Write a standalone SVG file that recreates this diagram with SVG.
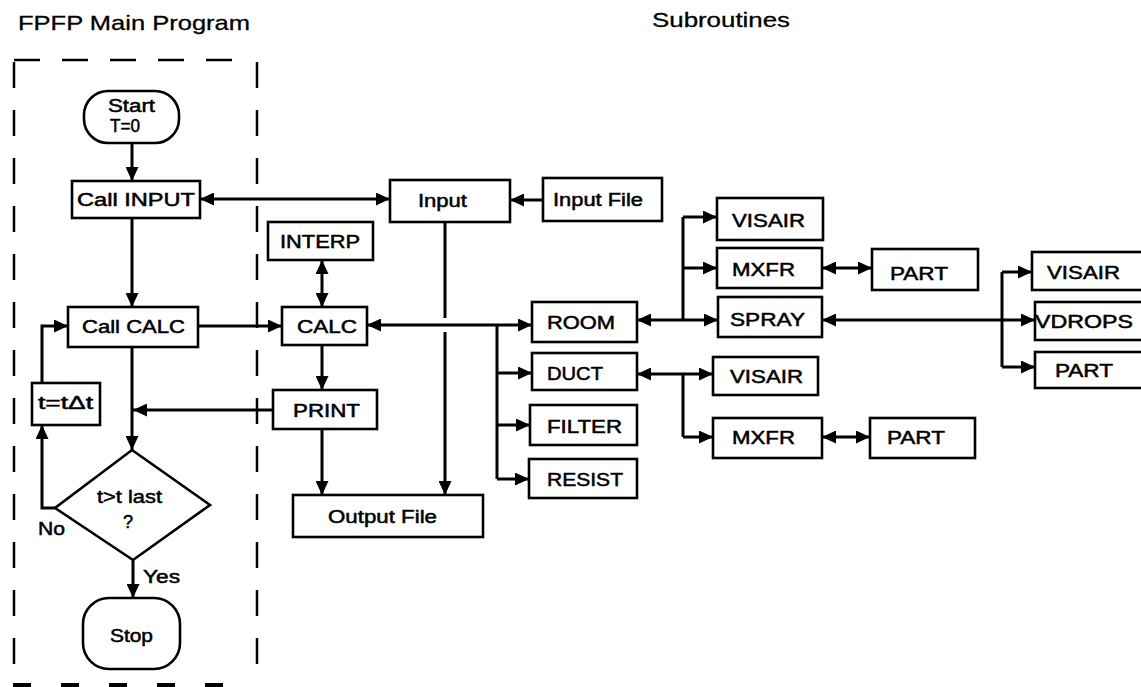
<svg xmlns="http://www.w3.org/2000/svg" width="1141" height="687" viewBox="0 0 1141 687">
<style>
  .box { fill: #fff; stroke: #000; stroke-width: 2.6; }
  .t { font-family: "Liberation Sans", Arial, sans-serif; font-size: 18px; fill: #000; stroke: #000; stroke-width: 0.5; }
  .title { font-family: "Liberation Sans", Arial, sans-serif; font-size: 21px; fill: #000; stroke: #000; stroke-width: 0.3; }
  .c { fill: none; stroke: #000; stroke-width: 3; }
  .a { fill: none; stroke: #000; stroke-width: 3; marker-end: url(#ah); }
  .aa { fill: none; stroke: #000; stroke-width: 3; marker-end: url(#ah); marker-start: url(#ah); }
  .dash { fill: none; stroke: #000; stroke-width: 2.5; stroke-dasharray: 26 22; }
</style>
<defs>
  <marker id="ah" markerUnits="userSpaceOnUse" markerWidth="15" markerHeight="13" refX="14" refY="6.5" orient="auto-start-reverse">
    <path d="M0,0 L14,6.5 L0,13 z" fill="#000"/>
  </marker>
</defs>
<rect width="1141" height="687" fill="#fff"/>

<g id="titles">
  <text class="title" x="18" y="30" textLength="232" lengthAdjust="spacingAndGlyphs">FPFP Main Program</text>
  <text class="title" x="652" y="27" textLength="138" lengthAdjust="spacingAndGlyphs">Subroutines</text>
</g>

<g id="main-frame">
  <line class="dash" x1="14" y1="60" x2="234" y2="60"/>
  <line class="dash" x1="14" y1="62" x2="14" y2="665"/>
  <line class="dash" x1="257" y1="62" x2="257" y2="665"/>
  <line x1="13" y1="685" x2="234" y2="685" stroke="#000" stroke-width="4" stroke-dasharray="18 30"/>
</g>

<g id="connectors">
  <line class="a" x1="132" y1="143" x2="132" y2="181"/>
  <line class="aa" x1="200" y1="199" x2="390" y2="199"/>
  <line class="a" x1="543" y1="200" x2="510" y2="200"/>
  <line class="c" x1="445" y1="222" x2="445" y2="318"/>
  <line class="a" x1="445" y1="332" x2="445" y2="495"/>
  <line class="a" x1="132" y1="218" x2="132" y2="307"/>
  <line class="a" x1="198" y1="326" x2="282" y2="326"/>
  <line class="aa" x1="322" y1="260" x2="322" y2="307"/>
  <line class="a" x1="322" y1="345" x2="322" y2="390"/>
  <line class="a" x1="322" y1="429" x2="322" y2="495"/>
  <line class="a" x1="273" y1="410" x2="133" y2="410"/>
  <line class="a" x1="132" y1="347" x2="132" y2="450"/>
  <polyline class="a" points="55,508 42,508 42,425"/>
  <polyline class="a" points="42,383 42,326 68,326"/>
  <line class="a" x1="133" y1="560" x2="133" y2="598"/>

  <line class="aa" x1="367" y1="325" x2="532" y2="325"/>
  <line class="c" x1="497" y1="325" x2="497" y2="479"/>
  <line class="a" x1="497" y1="373" x2="532" y2="373"/>
  <line class="a" x1="497" y1="425" x2="530" y2="425"/>
  <line class="a" x1="497" y1="479" x2="529" y2="479"/>

  <line class="aa" x1="637" y1="320" x2="718" y2="320"/>
  <line class="c" x1="683" y1="217" x2="683" y2="320"/>
  <line class="a" x1="683" y1="217" x2="717" y2="217"/>
  <line class="a" x1="683" y1="268" x2="717" y2="268"/>
  <line class="aa" x1="822" y1="268" x2="872" y2="268"/>

  <line class="aa" x1="637" y1="374" x2="713" y2="374"/>
  <line class="c" x1="683" y1="374" x2="683" y2="437"/>
  <line class="a" x1="683" y1="437" x2="713" y2="437"/>
  <line class="aa" x1="822" y1="437" x2="870" y2="437"/>

  <line class="aa" x1="822" y1="320" x2="1035" y2="320"/>
  <line class="c" x1="1002" y1="272" x2="1002" y2="367"/>
  <line class="a" x1="1002" y1="272" x2="1032" y2="272"/>
  <line class="a" x1="1002" y1="367" x2="1035" y2="367"/>
</g>

<g id="start">
  <rect class="box" x="84" y="91" width="95" height="52" rx="24"/>
  <text class="t" x="108" y="112" textLength="47" lengthAdjust="spacingAndGlyphs">Start</text>
  <text class="t" x="110" y="132" textLength="30" lengthAdjust="spacingAndGlyphs">T=0</text>
</g>
<g id="call-input">
  <rect class="box" x="72" y="181" width="128" height="37"/>
  <text class="t" x="77" y="206" textLength="118" lengthAdjust="spacingAndGlyphs">Call INPUT</text>
</g>
<g id="call-calc">
  <rect class="box" x="68" y="307" width="130" height="40"/>
  <text class="t" x="82" y="333" textLength="103" lengthAdjust="spacingAndGlyphs">Call CALC</text>
</g>
<g id="t-update">
  <rect class="box" x="32" y="383" width="68" height="42"/>
  <text class="t" x="38" y="409" textLength="55" lengthAdjust="spacingAndGlyphs">t=tΔt</text>
</g>
<g id="decision">
  <polygon class="box" points="132,450 210,505 133,560 55,508"/>
  <text class="t" x="97" y="503" textLength="65" lengthAdjust="spacingAndGlyphs">t&gt;t last</text>
  <text class="t" x="123" y="528">?</text>
  <text class="t" x="38" y="535" textLength="27" lengthAdjust="spacingAndGlyphs">No</text>
  <text class="t" x="143" y="583" textLength="37" lengthAdjust="spacingAndGlyphs">Yes</text>
</g>
<g id="stop">
  <rect class="box" x="83" y="598" width="97" height="71" rx="26"/>
  <text class="t" x="110" y="642" textLength="43" lengthAdjust="spacingAndGlyphs">Stop</text>
</g>

<g id="input">
  <rect class="box" x="390" y="180" width="120" height="42"/>
  <text class="t" x="418" y="207" textLength="49" lengthAdjust="spacingAndGlyphs">Input</text>
</g>
<g id="input-file">
  <rect class="box" x="543" y="178" width="119" height="43"/>
  <text class="t" x="553" y="206" textLength="90" lengthAdjust="spacingAndGlyphs">Input File</text>
</g>
<g id="interp">
  <rect class="box" x="268" y="222" width="105" height="38"/>
  <text class="t" x="280" y="248" textLength="80" lengthAdjust="spacingAndGlyphs">INTERP</text>
</g>
<g id="calc">
  <rect class="box" x="282" y="307" width="85" height="38"/>
  <text class="t" x="297" y="333" textLength="60" lengthAdjust="spacingAndGlyphs">CALC</text>
</g>
<g id="print">
  <rect class="box" x="273" y="390" width="104" height="39"/>
  <text class="t" x="293" y="417" textLength="67" lengthAdjust="spacingAndGlyphs">PRINT</text>
</g>
<g id="output-file">
  <rect class="box" x="293" y="495" width="190" height="42"/>
  <text class="t" x="328" y="523" textLength="109" lengthAdjust="spacingAndGlyphs">Output File</text>
</g>

<g id="room">
  <rect class="box" x="532" y="302" width="105" height="40"/>
  <text class="t" x="547" y="329" textLength="68" lengthAdjust="spacingAndGlyphs">ROOM</text>
</g>
<g id="duct">
  <rect class="box" x="532" y="353" width="105" height="37"/>
  <text class="t" x="547" y="380" textLength="56" lengthAdjust="spacingAndGlyphs">DUCT</text>
</g>
<g id="filter">
  <rect class="box" x="530" y="405" width="107" height="40"/>
  <text class="t" x="547" y="433" textLength="75" lengthAdjust="spacingAndGlyphs">FILTER</text>
</g>
<g id="resist">
  <rect class="box" x="529" y="459" width="108" height="39"/>
  <text class="t" x="547" y="486" textLength="76" lengthAdjust="spacingAndGlyphs">RESIST</text>
</g>

<g id="visair-room">
  <rect class="box" x="717" y="198" width="106" height="42"/>
  <text class="t" x="732" y="227" textLength="73" lengthAdjust="spacingAndGlyphs">VISAIR</text>
</g>
<g id="mxfr-room">
  <rect class="box" x="717" y="248" width="105" height="40"/>
  <text class="t" x="732" y="276" textLength="63" lengthAdjust="spacingAndGlyphs">MXFR</text>
</g>
<g id="part-room">
  <rect class="box" x="872" y="249" width="106" height="41"/>
  <text class="t" x="890" y="280" textLength="58" lengthAdjust="spacingAndGlyphs">PART</text>
</g>
<g id="spray">
  <rect class="box" x="718" y="297" width="104" height="40"/>
  <text class="t" x="730" y="326" textLength="75" lengthAdjust="spacingAndGlyphs">SPRAY</text>
</g>
<g id="visair-duct">
  <rect class="box" x="713" y="357" width="105" height="38"/>
  <text class="t" x="730" y="383" textLength="73" lengthAdjust="spacingAndGlyphs">VISAIR</text>
</g>
<g id="mxfr-duct">
  <rect class="box" x="713" y="418" width="109" height="40"/>
  <text class="t" x="732" y="444" textLength="63" lengthAdjust="spacingAndGlyphs">MXFR</text>
</g>
<g id="part-duct">
  <rect class="box" x="870" y="418" width="105" height="40"/>
  <text class="t" x="887" y="444" textLength="58" lengthAdjust="spacingAndGlyphs">PART</text>
</g>

<g id="visair-spray">
  <rect class="box" x="1032" y="252" width="120" height="38"/>
  <text class="t" x="1047" y="279" textLength="73" lengthAdjust="spacingAndGlyphs">VISAIR</text>
</g>
<g id="vdrops">
  <rect class="box" x="1035" y="302" width="120" height="38"/>
  <text class="t" x="1035" y="328" textLength="98" lengthAdjust="spacingAndGlyphs">VDROPS</text>
</g>
<g id="part-spray">
  <rect class="box" x="1035" y="352" width="120" height="36"/>
  <text class="t" x="1055" y="377" textLength="58" lengthAdjust="spacingAndGlyphs">PART</text>
</g>
</svg>
